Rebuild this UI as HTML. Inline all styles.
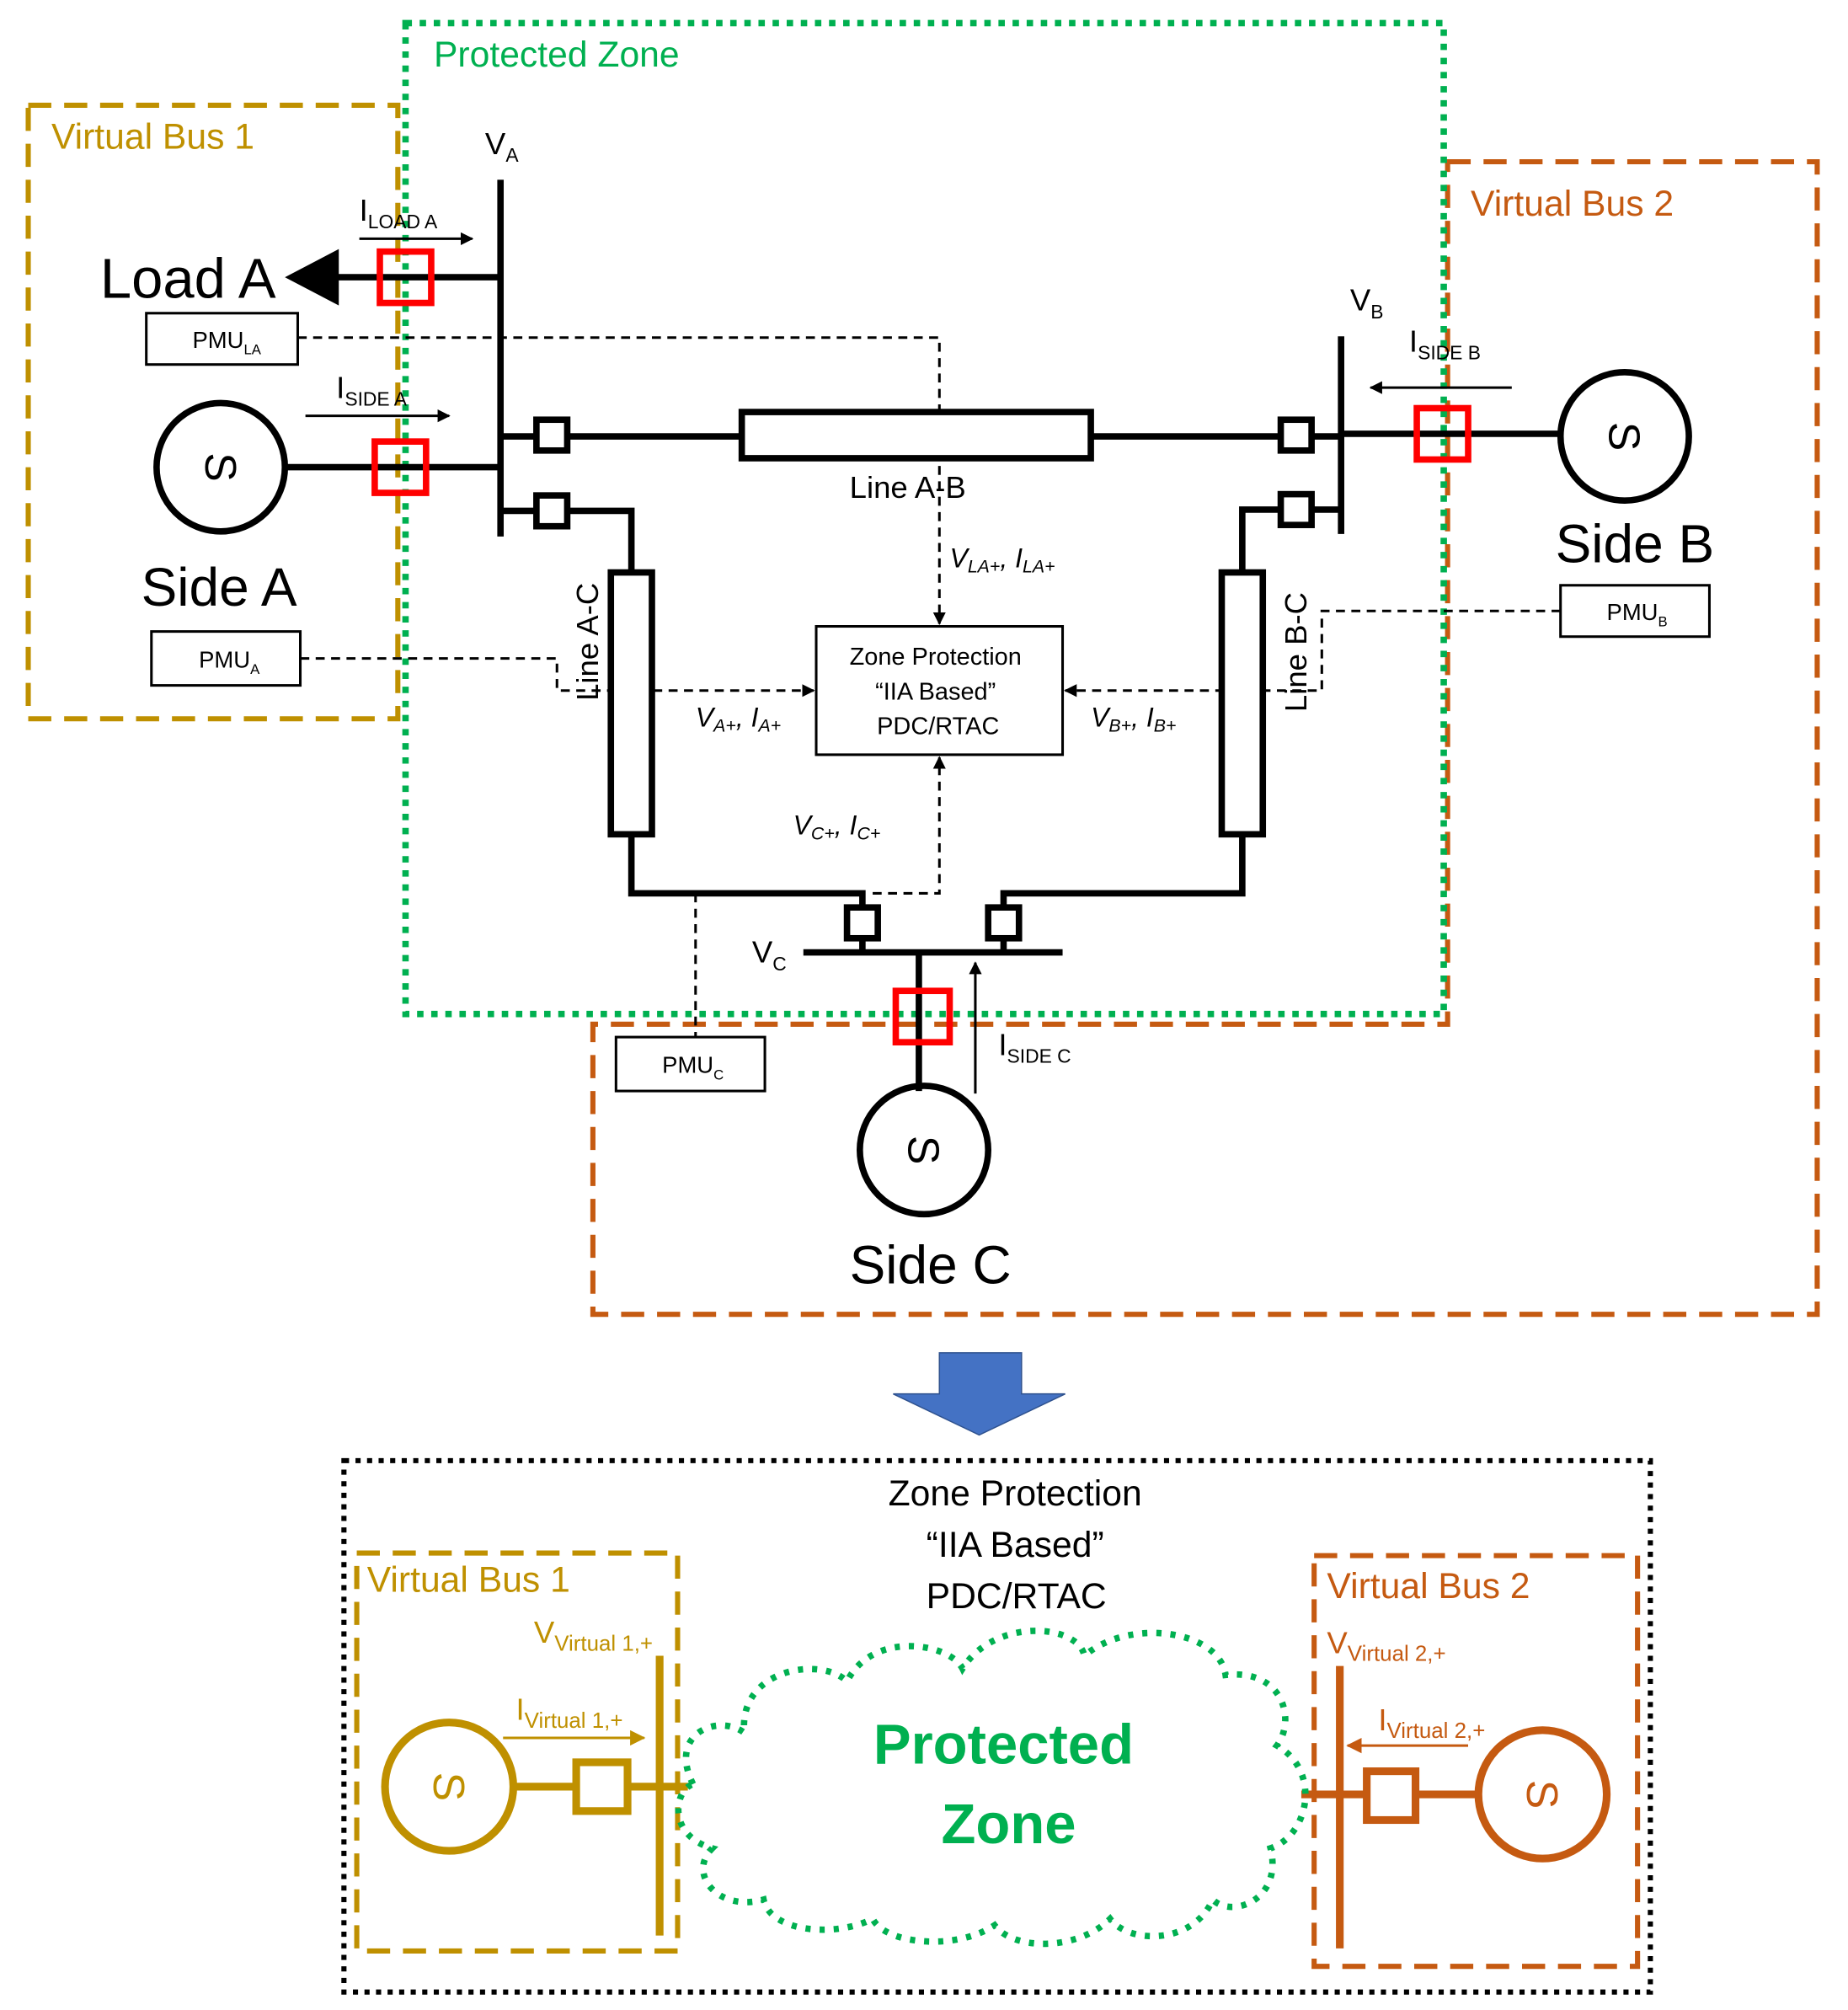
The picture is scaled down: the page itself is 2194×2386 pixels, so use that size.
<!DOCTYPE html>
<html><head><meta charset="utf-8"><style>
html,body{margin:0;padding:0;background:#fff}
svg{display:block}
text{font-family:"Liberation Sans","DejaVu Sans",sans-serif}
</style></head><body>
<svg width="2194" height="2386" viewBox="0 0 1440 1566" xmlns="http://www.w3.org/2000/svg">
<defs>
<marker id="ah" markerWidth="10" markerHeight="10" refX="9" refY="5" orient="auto" markerUnits="userSpaceOnUse"><path d="M0,0 L10,5 L0,10 z" fill="#000"/></marker>
<marker id="ahg" markerWidth="12" markerHeight="12" refX="11" refY="6" orient="auto" markerUnits="userSpaceOnUse"><path d="M0,0 L12,6 L0,12 z" fill="#BF9000"/></marker>
<marker id="aho" markerWidth="12" markerHeight="12" refX="11" refY="6" orient="auto" markerUnits="userSpaceOnUse"><path d="M0,0 L12,6 L0,12 z" fill="#C55A11"/></marker>
</defs>
<g fill="none" stroke-width="4">
<rect x="22" y="82" width="288" height="478" stroke="#BF9000" stroke-dasharray="18,10"/>
<path d="M1128,126 H1416 V1024 H462 V798 H1128 Z" stroke="#C55A11" stroke-dasharray="18,10"/>
<rect x="316" y="18" width="809" height="772" stroke="#00B050" stroke-dasharray="5,6" stroke-width="5"/>
</g>
<text x="338" y="52" font-size="28" fill="#00B050">Protected Zone</text>
<text x="40" y="116" font-size="28" fill="#BF9000">Virtual Bus 1</text>
<text x="1146" y="168" font-size="28" fill="#C55A11">Virtual Bus 2</text>

<g stroke="#000" stroke-width="2" fill="none" stroke-dasharray="7,5">
<path d="M232,263 H732 V486" marker-end="url(#ah)"/>
<path d="M234,513 H434 V538 H634" marker-end="url(#ah)"/>
<path d="M1216,476 H1030 V538 H830" marker-end="url(#ah)"/>
<path d="M680,696 H732 V590" marker-end="url(#ah)"/>
<path d="M542,696 V808"/>
</g>

<g stroke="#000" stroke-width="5" fill="none">
<line x1="390" y1="140" x2="390" y2="418"/>
<line x1="390" y1="216" x2="262" y2="216"/>
<line x1="390" y1="364" x2="222" y2="364"/>
<line x1="390" y1="340" x2="1045" y2="340"/>
<path d="M390,398 H492 V444"/>
<path d="M492,650 V696 H672 V742"/>
<line x1="1045" y1="262" x2="1045" y2="416"/>
<path d="M1045,397 H968 V444"/>
<path d="M968,650 V696 H782 V742"/>
<line x1="1045" y1="338" x2="1215" y2="338"/>
<line x1="626" y1="742" x2="828" y2="742"/>
<line x1="716" y1="742" x2="716" y2="850"/>
<circle cx="172" cy="364" r="50"/>
<circle cx="1266" cy="340" r="50"/>
<circle cx="720" cy="896" r="50"/>
</g>
<path d="M222,216 L264,194 L264,238 Z" fill="#000"/>
<g stroke="#000" stroke-width="5" fill="#fff">
<rect x="578" y="321" width="272" height="36"/>
<rect x="476" y="446" width="32" height="204"/>
<rect x="952" y="446" width="32" height="204"/>
<rect x="418" y="327" width="24" height="24"/>
<rect x="418" y="386" width="24" height="24"/>
<rect x="998" y="327" width="24" height="24"/>
<rect x="998" y="385" width="24" height="24"/>
<rect x="660" y="707" width="24" height="24"/>
<rect x="770" y="707" width="24" height="24"/>
</g>
<g stroke="#f00" stroke-width="5" fill="none">
<rect x="296" y="196" width="40" height="40"/>
<rect x="292" y="344" width="40" height="40"/>
<rect x="1104" y="318" width="40" height="40"/>
<rect x="698" y="772" width="42" height="40"/>
</g>
<g font-size="34" text-anchor="middle" fill="#000">
<text x="172" y="376" transform="rotate(90 172 364)">S</text>
<text x="1266" y="352" transform="rotate(90 1266 340)">S</text>
<text x="720" y="908" transform="rotate(90 720 896)">S</text>
</g>
<text x="78" y="232" font-size="44">Load A</text>
<text x="110" y="472" font-size="42">Side A</text>
<text x="1212" y="438" font-size="42">Side B</text>
<text x="662" y="1000" font-size="42">Side C</text>
<text x="662" y="388" font-size="24">Line A-B</text>
<text x="466" y="500" font-size="24" text-anchor="middle" transform="rotate(-90 466 500)">Line A-C</text>
<text x="1018" y="508" font-size="24" text-anchor="middle" transform="rotate(-90 1018 508)">Line B-C</text>

<g font-size="24">
<text x="378" y="120">V<tspan font-size="15" dy="6">A</tspan></text>
<text x="1052" y="242">V<tspan font-size="15" dy="6">B</tspan></text>
<text x="586" y="750">V<tspan font-size="15" dy="6">C</tspan></text>
<text x="280" y="172">I<tspan font-size="15" dy="6">LOAD A</tspan></text>
<text x="262" y="310">I<tspan font-size="15" dy="6">SIDE A</tspan></text>
<text x="1098" y="274">I<tspan font-size="15" dy="6">SIDE B</tspan></text>
<text x="778" y="822">I<tspan font-size="15" dy="6">SIDE C</tspan></text>
</g>
<g stroke="#000" stroke-width="2" fill="none">
<line x1="280" y1="186" x2="368" y2="186" marker-end="url(#ah)"/>
<line x1="238" y1="324" x2="350" y2="324" marker-end="url(#ah)"/>
<line x1="1178" y1="302" x2="1068" y2="302" marker-end="url(#ah)"/>
<line x1="760" y1="852" x2="760" y2="750" marker-end="url(#ah)"/>
</g>
<g stroke="#000" stroke-width="2" fill="#fff">
<rect x="114" y="244" width="118" height="40"/>
<rect x="118" y="492" width="116" height="42"/>
<rect x="1216" y="456" width="116" height="40"/>
<rect x="480" y="808" width="116" height="42"/>
<rect x="636" y="488" width="192" height="100"/>
</g>
<g font-size="18">
<text x="150" y="271">PMU<tspan font-size="11" dy="5">LA</tspan></text>
<text x="155" y="520">PMU<tspan font-size="11" dy="5">A</tspan></text>
<text x="1252" y="483">PMU<tspan font-size="11" dy="5">B</tspan></text>
<text x="516" y="836">PMU<tspan font-size="11" dy="5">C</tspan></text>
</g>
<g font-size="19" text-anchor="middle">
<text x="729" y="518">Zone Protection</text>
<text x="729" y="545">“IIA Based”</text>
<text x="731" y="572">PDC/RTAC</text>
</g>
<g font-style="italic" font-size="21">
<text x="740" y="442" font-family="Liberation Serif">V<tspan font-size="14" dy="4">LA+</tspan><tspan dy="-4">, I</tspan><tspan font-size="14" dy="4">LA+</tspan></text>
<text x="542" y="566" font-family="Liberation Serif">V<tspan font-size="14" dy="4">A+</tspan><tspan dy="-4">, I</tspan><tspan font-size="14" dy="4">A+</tspan></text>
<text x="850" y="566" font-family="Liberation Serif">V<tspan font-size="14" dy="4">B+</tspan><tspan dy="-4">, I</tspan><tspan font-size="14" dy="4">B+</tspan></text>
<text x="618" y="650" font-family="Liberation Serif">V<tspan font-size="14" dy="4">C+</tspan><tspan dy="-4">, I</tspan><tspan font-size="14" dy="4">C+</tspan></text>
</g>

<path d="M732,1054 H796 V1086 H830 L763,1118 L696,1086 H732 Z" fill="#4472C4" stroke="#2F528F" stroke-width="1"/>

<rect x="268" y="1138" width="1018" height="414" fill="none" stroke="#000" stroke-width="4" stroke-dasharray="4,5"/>
<g font-size="28" text-anchor="middle">
<text x="791" y="1173">Zone Protection</text>
<text x="791" y="1213">“IIA Based”</text>
<text x="792" y="1253">PDC/RTAC</text>
</g>
<rect x="278" y="1210" width="250" height="310" fill="none" stroke="#BF9000" stroke-width="4" stroke-dasharray="18,10"/>
<rect x="1024" y="1212" width="252" height="320" fill="none" stroke="#C55A11" stroke-width="4" stroke-dasharray="18,10"/>
<text x="286" y="1240" font-size="28" fill="#BF9000">Virtual Bus 1</text>
<text x="1034" y="1245" font-size="28" fill="#C55A11">Virtual Bus 2</text>

<g stroke="#BF9000" stroke-width="6" fill="none">
<line x1="514" y1="1290" x2="514" y2="1508"/>
<circle cx="350" cy="1392" r="50"/>
<line x1="400" y1="1392" x2="536" y2="1392"/>
<rect x="449" y="1373" width="40" height="38" fill="#fff"/>
</g>
<line x1="392" y1="1354" x2="502" y2="1354" stroke="#BF9000" stroke-width="2" marker-end="url(#ahg)"/>
<text x="350" y="1404" font-size="34" fill="#BF9000" text-anchor="middle" transform="rotate(90 350 1392)">S</text>
<g font-size="24" fill="#BF9000">
<text x="416" y="1280">V<tspan font-size="17" dy="6">Virtual 1,+</tspan></text>
<text x="402" y="1340">I<tspan font-size="17" dy="6">Virtual 1,+</tspan></text>
</g>

<g stroke="#C55A11" stroke-width="6" fill="none">
<line x1="1044" y1="1298" x2="1044" y2="1518"/>
<circle cx="1202" cy="1398" r="50"/>
<line x1="1014" y1="1398" x2="1152" y2="1398"/>
<rect x="1065" y="1380" width="38" height="38" fill="#fff"/>
</g>
<line x1="1144" y1="1360" x2="1050" y2="1360" stroke="#C55A11" stroke-width="2" marker-end="url(#aho)"/>
<text x="1202" y="1410" font-size="34" fill="#C55A11" text-anchor="middle" transform="rotate(90 1202 1398)">S</text>
<g font-size="24" fill="#C55A11">
<text x="1034" y="1288">V<tspan font-size="17" dy="6">Virtual 2,+</tspan></text>
<text x="1074" y="1348">I<tspan font-size="17" dy="6">Virtual 2,+</tspan></text>
</g>

<path d="M540,1390 C520,1350 560,1335 580,1350 C575,1300 640,1290 660,1310 C680,1270 740,1280 750,1300 C775,1260 840,1265 845,1290 C880,1260 950,1270 955,1305 C1000,1300 1010,1340 995,1360 C1030,1380 1020,1430 990,1440 C1000,1480 960,1495 945,1480 C930,1515 880,1515 865,1495 C840,1520 790,1520 775,1500 C745,1520 690,1515 680,1495 C650,1510 600,1505 595,1480 C560,1490 535,1460 555,1440 C520,1430 525,1395 540,1390 Z" fill="none" stroke="#00B050" stroke-width="5" stroke-dasharray="4,7"/>
<g font-size="44" font-weight="bold" fill="#00B050" text-anchor="middle">
<text x="782" y="1374">Protected</text>
<text x="786" y="1436">Zone</text>
</g>
</svg>
</body></html>
